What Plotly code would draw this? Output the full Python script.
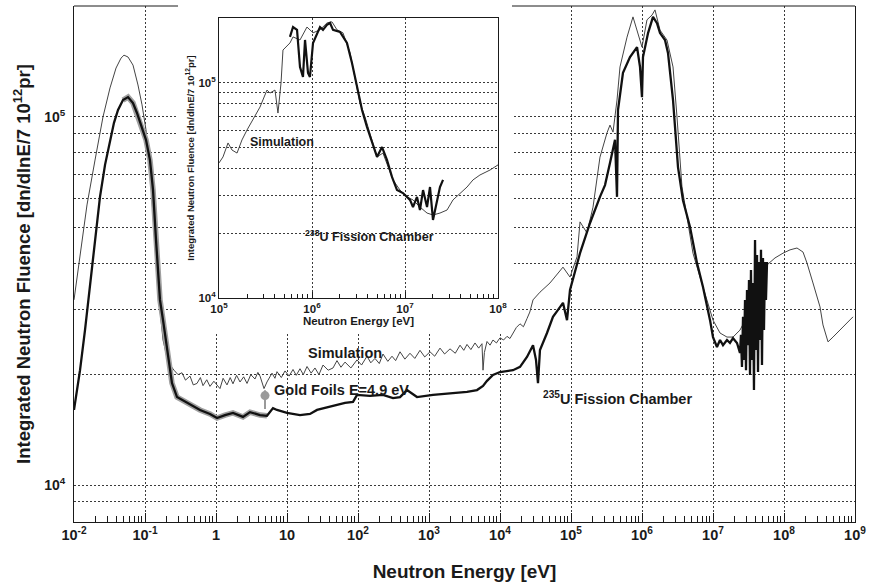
import plotly.graph_objects as go

# ---------------- data (log10 of energy [eV] and log10 of fluence) ----------------
sim_log_e = [-2.000, -1.915, -1.817, -1.704, -1.592, -1.493, -1.408, -1.338, -1.296, -1.239, -1.169, -1.099,
             -1.042, -0.986, -0.930, -0.873, -0.817, -0.746, -0.676,
             -0.592, -0.535, -0.479, -0.430, -0.366, -0.320, -0.268, -0.220, -0.183, -0.130, -0.085, -0.030,
             0.056, 0.100, 0.155, 0.200, 0.239, 0.290, 0.338, 0.390, 0.437, 0.490, 0.549, 0.590, 0.620,
             0.676, 0.718, 0.760, 0.789, 0.830, 0.859, 0.920, 0.972, 1.030, 1.085, 1.130, 1.183, 1.230,
             1.282, 1.340, 1.394, 1.450, 1.507, 1.580, 1.648, 1.704, 1.760, 1.817, 1.900, 1.986, 2.050,
             2.127, 2.180, 2.239, 2.300, 2.352, 2.420, 2.479, 2.530, 2.592, 2.660, 2.732, 2.800, 2.873,
             2.940, 3.014, 3.080, 3.155, 3.220, 3.296, 3.370, 3.437, 3.490, 3.535, 3.590, 3.648, 3.700,
             3.746, 3.761, 3.780, 3.817, 3.860, 3.901, 3.950, 4.000, 4.050, 4.099, 4.140, 4.183, 4.230,
             4.282, 4.330, 4.380, 4.420, 4.465,
             4.563, 4.704, 4.803, 4.887, 4.986, 5.085, 5.127,
             5.225, 5.310, 5.408, 5.507, 5.549, 5.592, 5.648, 5.690, 5.789, 5.873, 5.930, 6.000, 6.070,
             6.141, 6.183, 6.254, 6.352, 6.437, 6.493, 6.563, 6.634, 6.718, 6.817, 6.915, 7.000, 7.099,
             7.197, 7.282, 7.380, 7.479, 7.563, 7.662, 7.761, 7.873, 7.986, 8.085, 8.183, 8.268, 8.324,
             8.408, 8.507, 8.549, 8.620, 8.690, 8.789, 8.887, 8.972]
sim_log_f = [4.503, 4.625, 4.761, 4.883, 5.000, 5.079, 5.133, 5.160, 5.168, 5.163, 5.141, 5.087,
             5.033, 4.965, 4.856, 4.693, 4.530, 4.394, 4.334,
             4.312, 4.300, 4.305, 4.285, 4.296, 4.272, 4.276, 4.292, 4.270, 4.286, 4.268, 4.282,
             4.262, 4.290, 4.272, 4.292, 4.275, 4.298, 4.280, 4.294, 4.276, 4.300, 4.288, 4.306, 4.296,
             4.262, 4.280, 4.296, 4.304, 4.290, 4.308, 4.292, 4.310, 4.296, 4.314, 4.298, 4.316, 4.300,
             4.322, 4.304, 4.318, 4.300, 4.326, 4.312, 4.318, 4.338, 4.320, 4.334, 4.318, 4.340, 4.326,
             4.350, 4.332, 4.344, 4.330, 4.356, 4.336, 4.350, 4.338, 4.362, 4.342, 4.358, 4.344, 4.366,
             4.348, 4.362, 4.350, 4.372, 4.356, 4.370, 4.358, 4.380, 4.366, 4.382, 4.368, 4.386, 4.372,
             4.384, 4.312, 4.360, 4.390, 4.380, 4.394, 4.386, 4.400, 4.394, 4.404, 4.398, 4.412, 4.428,
             4.438, 4.430, 4.452, 4.470, 4.503,
             4.524, 4.549, 4.571, 4.592, 4.565, 4.620, 4.715,
             4.685, 4.755, 4.891, 4.957, 4.978, 4.959, 5.046, 5.136, 5.217, 5.272, 5.236, 5.190, 5.264,
             5.277, 5.291, 5.236, 5.209, 5.136, 5.000, 4.810, 4.728, 4.630, 4.565, 4.503, 4.448, 4.413,
             4.402, 4.402, 4.421, 4.457, 4.511, 4.565, 4.598, 4.617, 4.630, 4.639, 4.644, 4.633, 4.603,
             4.549, 4.484, 4.435, 4.389, 4.402, 4.421, 4.440, 4.457]

exp_log_e = [-2.000, -1.915, -1.845, -1.775, -1.704, -1.634, -1.563, -1.493, -1.437, -1.380, -1.310, -1.239,
             -1.169, -1.113, -1.070, -0.986, -0.930, -0.887, -0.845, -0.789, -0.746, -0.690, -0.620, -0.549,
             -0.408, -0.225, -0.085, 0.014, 0.127, 0.239, 0.380, 0.479, 0.620, 0.718, 0.803, 0.859, 1.000,
             1.183, 1.324, 1.423, 1.648, 1.817, 1.930, 1.986, 2.169, 2.352, 2.493, 2.592, 2.690, 2.831,
             3.056, 3.296, 3.535, 3.676, 3.761, 3.817, 3.901, 4.000, 4.099, 4.183, 4.282, 4.380, 4.465,
             4.507, 4.535, 4.563, 4.662, 4.746, 4.817, 4.887, 4.944, 4.986, 5.127, 5.268, 5.408, 5.479,
             5.549, 5.620, 5.648, 5.662, 5.732, 5.831, 5.930, 5.972, 6.000, 6.014, 6.085, 6.155, 6.211,
             6.254, 6.324, 6.366, 6.437, 6.507, 6.577, 6.676, 6.775, 6.859, 6.958, 7.000, 7.056, 7.099,
             7.141, 7.197, 7.239, 7.282, 7.338, 7.380, 7.394, 7.408, 7.423, 7.437, 7.451, 7.465, 7.479,
             7.493, 7.507, 7.521, 7.535, 7.549, 7.563, 7.577, 7.592, 7.606, 7.620, 7.634, 7.648, 7.662,
             7.676, 7.690, 7.704, 7.718, 7.732, 7.746, 7.761]
exp_log_f = [4.204, 4.312, 4.421, 4.543, 4.666, 4.783, 4.870, 4.938, 4.984, 5.019, 5.046, 5.054,
             5.038, 5.011, 4.984, 4.938, 4.883, 4.802, 4.666, 4.503, 4.448, 4.367, 4.277, 4.239,
             4.223, 4.204, 4.193, 4.182, 4.190, 4.196, 4.185, 4.198, 4.190, 4.188, 4.209, 4.204, 4.196,
             4.190, 4.193, 4.204, 4.215, 4.223, 4.226, 4.245, 4.242, 4.245, 4.236, 4.239, 4.258, 4.239,
             4.245, 4.250, 4.253, 4.258, 4.269, 4.283, 4.299, 4.307, 4.310, 4.312, 4.321, 4.348, 4.380,
             4.340, 4.277, 4.367, 4.413, 4.457, 4.476, 4.495, 4.448, 4.530, 4.630, 4.712, 4.783, 4.815,
             4.875, 4.938, 4.783, 5.019, 5.120, 5.163, 5.190, 5.136, 5.054, 5.163, 5.228, 5.272, 5.255,
             5.228, 5.209, 5.174, 5.046, 4.864, 4.774, 4.701, 4.603, 4.538, 4.448, 4.402, 4.375, 4.394,
             4.380, 4.394, 4.386, 4.399, 4.386, 4.359, 4.408, 4.321, 4.457, 4.340, 4.503, 4.312, 4.530,
             4.380, 4.557, 4.299, 4.584, 4.340, 4.549, 4.258, 4.666, 4.367, 4.625, 4.307, 4.606, 4.394,
             4.639, 4.326, 4.617, 4.421, 4.606, 4.503, 4.606]

inset_sim_log_e = [5.000, 5.043, 5.097, 5.140, 5.194, 5.247, 5.301, 5.366, 5.441, 5.516, 5.548, 5.602,
                   5.634, 5.667, 5.688, 5.763, 5.796, 5.871, 5.946, 6.011, 6.086, 6.161, 6.215, 6.269,
                   6.333, 6.409, 6.462, 6.516, 6.570, 6.624, 6.699, 6.763, 6.817, 6.871, 6.946, 7.022,
                   7.086, 7.161, 7.237, 7.301, 7.376, 7.452, 7.516, 7.591, 7.667, 7.731, 7.806, 7.914, 8.000]
inset_sim_log_f = [4.628, 4.656, 4.721, 4.688, 4.674, 4.735, 4.781, 4.828, 4.888, 4.967, 4.953, 4.967,
                   4.860, 5.000, 5.153, 5.186, 5.214, 5.200, 5.260, 5.233, 5.247, 5.279, 5.284, 5.247,
                   5.233, 5.140, 5.028, 4.907, 4.842, 4.767, 4.656, 4.674, 4.609, 4.549, 4.502, 4.470,
                   4.456, 4.423, 4.395, 4.386, 4.395, 4.409, 4.456, 4.488, 4.516, 4.549, 4.572, 4.595, 4.619]

inset_exp_log_e = [5.763, 5.796, 5.839, 5.871, 5.903, 5.925, 5.957, 5.978, 6.011, 6.054, 6.086, 6.118,
                   6.161, 6.194, 6.226, 6.301, 6.376, 6.430, 6.484, 6.538, 6.591, 6.645, 6.699, 6.753,
                   6.806, 6.860, 6.914, 6.978, 7.054, 7.086, 7.129, 7.161, 7.194, 7.237, 7.269, 7.301,
                   7.344, 7.376, 7.409]
inset_exp_log_f = [5.214, 5.260, 5.247, 5.074, 5.028, 5.200, 5.047, 5.028, 5.186, 5.233, 5.260, 5.247,
                   5.270, 5.279, 5.247, 5.237, 5.186, 5.093, 4.981, 4.874, 4.795, 4.721, 4.656, 4.702,
                   4.642, 4.563, 4.502, 4.488, 4.456, 4.423, 4.470, 4.409, 4.502, 4.423, 4.516, 4.363,
                   4.456, 4.516, 4.549]

gold_energy = [4.9]
gold_fluence = [17500]
gold_err_plus = [600]
gold_err_minus = [1400]

x_tick_vals = [1e-2, 1e-1, 1, 10, 1e2, 1e3, 1e4, 1e5, 1e6, 1e7, 1e8, 1e9]
x_tick_text = ["10<sup>-2</sup>", "10<sup>-1</sup>", "1", "10", "10<sup>2</sup>", "10<sup>3</sup>",
               "10<sup>4</sup>", "10<sup>5</sup>", "10<sup>6</sup>", "10<sup>7</sup>", "10<sup>8</sup>",
               "10<sup>9</sup>"]
y_tick_vals = [1e4, 1e5]
y_tick_text = ["10<sup>4</sup>", "10<sup>5</sup>"]
y_grid_minor = [9e3, 2e4, 3e4, 4e4, 5e4, 6e4, 7e4, 8e4, 9e4]
inset_x_tick_vals = [1e5, 1e6, 1e7, 1e8]
inset_x_tick_text = ["10<sup>5</sup>", "10<sup>6</sup>", "10<sup>7</sup>", "10<sup>8</sup>"]
inset_y_grid_minor = [2e4, 3e4, 4e4, 5e4, 6e4, 7e4, 8e4, 9e4]

# ---------------- figure ----------------
def p10(v):
    return [10 ** a for a in v]

FONT = "Liberation Sans"
INK = "#1a1a1a"
GRID = "#3a3a3a"
DASH = "2px,2px"

x_minor = [m * 10 ** k for k in range(-2, 9) for m in range(2, 10)]
ix_minor = [m * 10 ** k for k in range(5, 8) for m in range(2, 10)]

# points of the measured curve that carry the grey error band
band_e = [e for e in exp_log_e if -1.35 <= e <= 0.75]
band_f = [f for e, f in zip(exp_log_e, exp_log_f) if -1.35 <= e <= 0.75]

fig = go.Figure()

fig.add_trace(go.Scatter(x=p10(sim_log_e), y=p10(sim_log_f), mode="lines",
                         line=dict(color="#444444", width=1), xaxis="x", yaxis="y",
                         showlegend=False))
fig.add_trace(go.Scatter(x=p10(band_e), y=p10(band_f), mode="lines",
                         line=dict(color="#a0a0a0", width=5.5), xaxis="x", yaxis="y",
                         showlegend=False))
fig.add_trace(go.Scatter(x=p10(exp_log_e), y=p10(exp_log_f), mode="lines",
                         line=dict(color="#111111", width=2.3), xaxis="x", yaxis="y",
                         showlegend=False))
fig.add_trace(go.Scatter(x=gold_energy, y=gold_fluence, mode="markers",
                         marker=dict(color="#9a9a9a", size=9),
                         error_y=dict(type="data", array=gold_err_plus, arrayminus=gold_err_minus,
                                      color="#9a9a9a", thickness=2, width=0),
                         xaxis="x", yaxis="y", showlegend=False))

# empty subplot: its white background masks the main grid behind the inset block
fig.add_trace(go.Scatter(x=[], y=[], xaxis="x2", yaxis="y2", showlegend=False, hoverinfo="skip"))

fig.add_trace(go.Scatter(x=p10(inset_sim_log_e), y=p10(inset_sim_log_f), mode="lines",
                         line=dict(color="#444444", width=1), xaxis="x3", yaxis="y3",
                         showlegend=False))
fig.add_trace(go.Scatter(x=p10(inset_exp_log_e), y=p10(inset_exp_log_f), mode="lines",
                         line=dict(color="#111111", width=2.2), xaxis="x3", yaxis="y3",
                         showlegend=False))

bold = dict(family=FONT, color=INK, weight="bold")


def note(text, x, y, size):
    return dict(text="<b>" + text + "</b>", xref="paper", yref="paper", x=x, y=y,
                xanchor="center", yanchor="middle", showarrow=False,
                font=dict(family=FONT, size=size, color=INK))


fig.update_layout(
    width=869, height=582,
    margin=dict(l=74, r=14, t=6, b=60),
    paper_bgcolor="white", plot_bgcolor="white",
    xaxis=dict(type="log", range=[-2, 9], tickvals=x_tick_vals, ticktext=x_tick_text,
               tickfont=dict(size=14.5, **bold), showline=True, linecolor=INK, linewidth=1,
               mirror=False, ticks="inside", ticklen=9, tickcolor=INK,
               showgrid=True, gridcolor=GRID, griddash=DASH, gridwidth=1,
               minor=dict(tickvals=x_minor, ticks="inside", ticklen=6, tickcolor=INK, showgrid=False),
               title=dict(text="Neutron Energy [eV]", font=dict(size=19, **bold), standoff=26),
               zeroline=False, automargin=False),
    yaxis=dict(type="log", range=[3.8995, 5.3016], tickvals=y_tick_vals, ticktext=y_tick_text,
               tickfont=dict(size=14, **bold), showline=True, linecolor=INK, linewidth=1,
               mirror=True, ticks="", ticklabelstandoff=5,
               showgrid=True, gridcolor=GRID, griddash=DASH, gridwidth=1,
               minor=dict(tickvals=y_grid_minor, showgrid=True, gridcolor=GRID, griddash=DASH,
                          gridwidth=1, ticks=""),
               title=dict(text="Integrated Neutron Fluence [dn/dlnE/7 10<sup>12</sup>pr]",
                          font=dict(size=18.5, **bold), standoff=8),
               zeroline=False, automargin=False),
    xaxis2=dict(domain=[0.1332, 0.5608], anchor="y2", range=[0, 1], visible=False,
                showgrid=False, zeroline=False),
    yaxis2=dict(domain=[0.3682, 1.0], anchor="x2", range=[0, 1], visible=False,
                showgrid=False, zeroline=False),
    xaxis3=dict(type="log", range=[5, 8], domain=[0.18566, 0.54289], anchor="y3",
                tickvals=inset_x_tick_vals, ticktext=inset_x_tick_text,
                tickfont=dict(size=11.5, **bold), showline=True, linecolor=INK, linewidth=1,
                mirror=True, ticks="inside", ticklen=6, tickcolor=INK,
                showgrid=True, gridcolor=GRID, griddash=DASH, gridwidth=1,
                minor=dict(tickvals=ix_minor, ticks="inside", ticklen=4, tickcolor=INK, showgrid=False),
                title=dict(text="Neutron Energy [eV]", font=dict(size=11.5, **bold), standoff=3),
                zeroline=False, automargin=False),
    yaxis3=dict(type="log", range=[4, 5.302], domain=[0.43411, 0.97674], anchor="x3",
                tickvals=y_tick_vals, ticktext=y_tick_text,
                tickfont=dict(size=11.5, **bold), showline=True, linecolor=INK, linewidth=1,
                mirror=True, ticks="", showgrid=True, gridcolor=GRID, griddash=DASH, gridwidth=1,
                minor=dict(tickvals=inset_y_grid_minor, showgrid=True, gridcolor=GRID, griddash=DASH,
                           gridwidth=1, ticks=""),
                title=dict(text="Integrated Neutron Fluence [dn/dlnE/7 10<sup>12</sup>pr]",
                           font=dict(size=9.5, **bold), standoff=2),
                zeroline=False, automargin=False),
    shapes=[
        dict(type="line", xref="paper", yref="paper", x0=0, x1=0.1332, y0=1, y1=1,
             line=dict(color=INK, width=1), layer="above"),
        dict(type="line", xref="paper", yref="paper", x0=0.5608, x1=1, y0=1, y1=1,
             line=dict(color=INK, width=1), layer="above"),
    ],
    annotations=[
        note("Simulation", 0.347, 0.3275, 14.5),
        note("Gold Foils E=4.9 eV", 0.3431, 0.2558, 14.5),
        note("<sup>235</sup>U Fission Chamber", 0.6953, 0.2403, 14.5),
        note("Simulation", 0.2663, 0.7364, 12.5),
        note("<sup>238</sup>U Fission Chamber", 0.3790, 0.5543, 12.5),
    ],
)

fig.write_html("out.html")
